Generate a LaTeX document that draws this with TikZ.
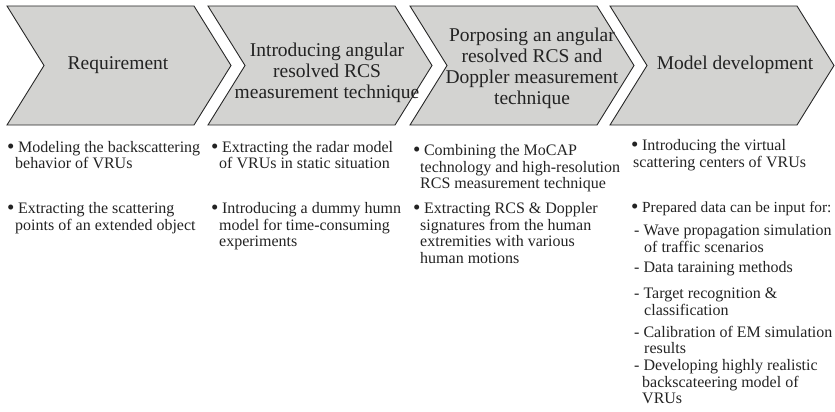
\documentclass[tikz,border=0pt]{standalone}
\usepackage{fontspec}
\setmainfont{Liberation Serif}
\definecolor{chevgray}{RGB}{211,211,209}
\definecolor{txt}{RGB}{35,35,35}
\definecolor{edge}{RGB}{40,40,40}
\newcommand\mybul{\raisebox{-1.6pt}{\fontsize{21}{21}\selectfont\textbullet}\hspace{3.5pt}}
\begin{document}
\begin{tikzpicture}[x=1pt,y=-1pt,
  chev/.style={draw=edge, fill=chevgray, line width=0.9pt, line join=miter},
  htext/.style={align=center, font=\fontsize{19.5}{21}\selectfont, text=txt, inner sep=0pt},
  bl/.style={anchor=base west, font=\fontsize{16}{16.6}\selectfont, text=txt, inner sep=0pt}]
\useasboundingbox (0,0) rectangle (835,412);
% chevrons
\foreach \x in {7,208,410,610}{
  \draw[chev] (\x,6) -- ++(187,0) -- ++(37,59.5) -- ++(-37,59.5) -- ++(-187,0) -- ++(37,-59.5) -- cycle;
}
% headings
\node[htext] (h1) at (118,65) {Requirement};
\node[htext] (h2) at (327,73) {Introducing angular\\resolved RCS\\measurement technique};
\node[htext] (h3) at (532,68) {Porposing an angular\\resolved RCS and\\Doppler measurement\\technique};
\node[htext] (h4) at (735,65) {Model development};
% column 1
\node[bl] (b11a) at (7,152) {\mybul Modeling the backscattering};
\node[bl] (b11b) at (15,168) {behavior of VRUs};
\node[bl] (b12a) at (7,213) {\mybul Extracting the scattering};
\node[bl] (b12b) at (15,230) {points of an extended object};
% column 2
\node[bl] (b21a) at (211,152) {\mybul Extracting the radar model};
\node[bl] (b21b) at (219,168) {of VRUs in static situation};
\node[bl] (b22a) at (211,213) {\mybul Introducing a dummy humn};
\node[bl] (b22b) at (219,230) {model for time-consuming};
\node[bl] (b22c) at (219,246) {experiments};
% column 3
\node[bl] (b31a) at (413,155) {\mybul Combining the MoCAP};
\node[bl] (b31b) at (420,172) {technology and high-resolution};
\node[bl] (b31c) at (420,188) {RCS measurement technique};
\node[bl] (b32a) at (413,213) {\mybul Extracting RCS \& Doppler};
\node[bl] (b32b) at (420,230) {signatures from the human};
\node[bl] (b32c) at (420,246) {extremities with various};
\node[bl] (b32d) at (420,263) {human motions};
% column 4
\node[bl] (b41a) at (631,150) {\mybul Introducing the virtual};
\node[bl] (b41b) at (633,167) {scattering centers of VRUs};
\node[bl, font=\fontsize{15.4}{16}\selectfont] (b42a) at (631,212) {\mybul Prepared data can be input for:};
\node[bl] (s1a) at (634,235) {- Wave propagation simulation};
\node[bl] (s1b) at (644,252) {of traffic scenarios};
\node[bl] (s2a) at (634,272) {- Data taraining methods};
\node[bl] (s3a) at (634,298) {- Target recognition \&};
\node[bl] (s3b) at (644,315) {classification};
\node[bl] (s4a) at (634,337) {- Calibration of EM simulation};
\node[bl] (s4b) at (644,353) {results};
\node[bl] (s5a) at (634,370) {- Developing highly realistic};
\node[bl] (s5b) at (642,387) {backscateering model of};
\node[bl] (s5c) at (642,403) {VRUs};
\end{tikzpicture}
\end{document}
